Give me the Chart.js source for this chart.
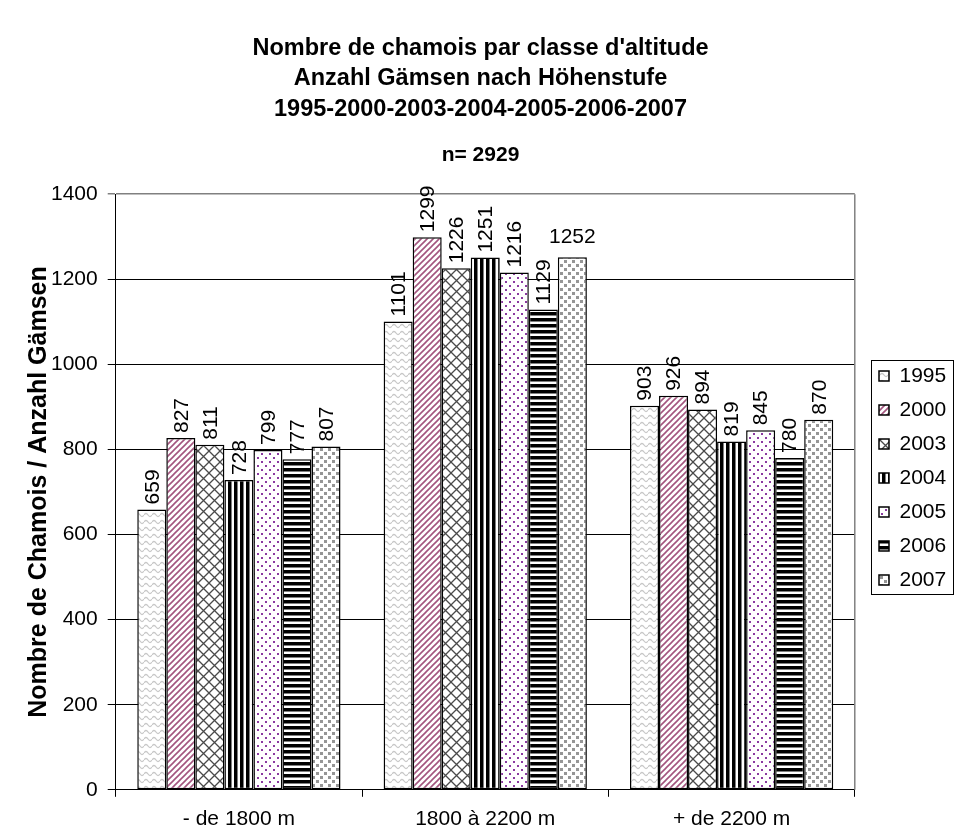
<!DOCTYPE html>
<html>
<head>
<meta charset="utf-8">
<script src="https://cdn.jsdelivr.net/npm/chart.js@4.4.1/dist/chart.umd.min.js"></script>
<style>
  html, body { margin: 0; padding: 0; background: #fff; }
  #wrap { width: 954px; height: 833px; position: relative; }
</style>
</head>
<body>
<div id="wrap"><canvas id="chamoisChart"></canvas></div>
<script>
// Daten
const categories = ['- de 1800 m', '1800 à 2200 m', '+ de 2200 m'];
const years = ['1995', '2000', '2003', '2004', '2005', '2006', '2007'];
const values1995 = [659, 1101, 903];
const values2000 = [827, 1299, 926];
const values2003 = [811, 1226, 894];
const values2004 = [728, 1251, 819];
const values2005 = [799, 1216, 845];
const values2006 = [777, 1129, 780];
const values2007 = [807, 1252, 870];
const yTicks = [0, 200, 400, 600, 800, 1000, 1200, 1400];

// Muster fuer die Balken
function makePattern(w, h, draw) {
  const c = document.createElement('canvas');
  c.width = w;
  c.height = h;
  const g = c.getContext('2d');
  g.fillStyle = '#fff';
  g.fillRect(0, 0, w, h);
  draw(g);
  return document.createElement('canvas').getContext('2d').createPattern(c, 'repeat');
}

const patterns = [
  // 1995: Wellen hellgrau
  makePattern(8, 7, g => {
    g.strokeStyle = '#c8c8c8';
    g.lineWidth = 1.3;
    g.beginPath();
    g.moveTo(0, 4);
    g.quadraticCurveTo(2, 1, 4, 4);
    g.quadraticCurveTo(6, 7, 8, 4);
    g.stroke();
  }),
  // 2000: Diagonalen violett
  makePattern(6, 6, g => {
    g.strokeStyle = '#a3557f';
    g.lineWidth = 1.6;
    g.beginPath();
    g.moveTo(-1, 7); g.lineTo(7, -1);
    g.moveTo(-4, 4); g.lineTo(4, -4);
    g.moveTo(2, 10); g.lineTo(10, 2);
    g.stroke();
  }),
  // 2003: Rautengitter
  makePattern(11, 11, g => {
    g.strokeStyle = '#4a4a4a';
    g.lineWidth = 1.3;
    g.beginPath();
    g.moveTo(0, 0); g.lineTo(11, 11);
    g.moveTo(11, 0); g.lineTo(0, 11);
    g.stroke();
  }),
  // 2004: senkrechte Streifen
  makePattern(6, 6, g => {
    g.fillStyle = '#000';
    g.fillRect(0, 0, 3.5, 6);
  }),
  // 2005: violette Punkte
  makePattern(8, 8, g => {
    g.fillStyle = '#8a3aa0';
    g.fillRect(1, 1, 2, 2);
    g.fillRect(5, 5, 2, 2);
  }),
  // 2006: waagrechte Streifen
  makePattern(6, 6, g => {
    g.fillStyle = '#000';
    g.fillRect(0, 0, 6, 3.5);
  }),
  // 2007: graue Quadrate
  makePattern(8, 8, g => {
    g.fillStyle = '#969696';
    g.fillRect(0, 0, 3, 3);
    g.fillRect(4, 4, 3, 3);
  })
];

const seriesValues = [values1995, values2000, values2003, values2004, values2005, values2006, values2007];

const datasets = years.map((year, i) => ({
  label: year,
  data: seriesValues[i],
  backgroundColor: patterns[i],
  borderColor: '#000',
  borderWidth: 1.5,
  borderSkipped: false,
  categoryPercentage: 0.825,
  barPercentage: 1.0
}));

// Werte ueber den Balken (1252 steht waagrecht)
const horizontalLabels = ['6-1'];

const valueLabels = {
  id: 'valueLabels',
  afterDatasetsDraw(chart) {
    const ctx = chart.ctx;
    ctx.save();
    ctx.fillStyle = '#000';
    ctx.font = '21px "Liberation Sans", Arial, sans-serif';
    chart.data.datasets.forEach((ds, di) => {
      const meta = chart.getDatasetMeta(di);
      meta.data.forEach((bar, idx) => {
        const text = String(ds.data[idx]);
        if (horizontalLabels.includes(di + '-' + idx)) {
          ctx.textAlign = 'center';
          ctx.textBaseline = 'bottom';
          ctx.fillText(text, bar.x, bar.y - 9);
        } else {
          ctx.save();
          ctx.translate(bar.x, bar.y - 5);
          ctx.rotate(-Math.PI / 2);
          ctx.textAlign = 'left';
          ctx.textBaseline = 'middle';
          ctx.fillText(text, 0, 1);
          ctx.restore();
        }
      });
    });
    ctx.restore();
  }
};

// Legende: Position wie im Original, mit Rahmen
const legendBox = { left: 871, top: 360, width: 82, height: 234 };

const frames = {
  id: 'frames',
  beforeDraw(chart) {
    const lg = chart.legend;
    lg.left = legendBox.left - 5;
    lg.right = legendBox.left + legendBox.width;
    lg.top = legendBox.top - 7.5;
    lg.bottom = legendBox.top + legendBox.height + 60;
  },
  afterDraw(chart) {
    const ctx = chart.ctx;
    const a = chart.chartArea;
    ctx.save();
    ctx.strokeStyle = '#808080';
    ctx.lineWidth = 1.5;
    ctx.beginPath();
    ctx.moveTo(a.right, a.top);
    ctx.lineTo(a.right, a.bottom);
    ctx.stroke();
    ctx.strokeStyle = '#000';
    ctx.lineWidth = 1;
    ctx.strokeRect(legendBox.left + 0.5, legendBox.top + 0.5, legendBox.width, legendBox.height);
    ctx.restore();
  }
};

Chart.defaults.font.family = '"Liberation Sans", Arial, sans-serif';
Chart.defaults.color = '#000';

const ctx = document.getElementById('chamoisChart').getContext('2d');
new Chart(ctx, {
  type: 'bar',
  data: { labels: categories, datasets: datasets },
  options: {
    responsive: true,
    maintainAspectRatio: false,
    animation: false,
    layout: { padding: { left: 16, right: 9, bottom: -9 } },
    plugins: {
      title: {
        display: true,
        text: ['Nombre de chamois par classe d\'altitude', 'Anzahl Gämsen nach Höhenstufe', '1995-2000-2003-2004-2005-2006-2007'],
        font: { size: 23.5, weight: 'bold', lineHeight: 1.277 },
        padding: { top: 34, bottom: 0 }
      },
      subtitle: {
        display: true,
        text: 'n= 2929',
        font: { size: 21, weight: 'bold' },
        padding: { top: 19, bottom: 26 }
      },
      legend: {
        position: 'right',
        align: 'start',
        labels: {
          boxWidth: 10,
          boxHeight: 10,
          padding: 13,
          font: { size: 21 },
          color: '#000'
        }
      },
      tooltip: { enabled: false }
    },
    scales: {
      x: {
        grid: { drawOnChartArea: false, drawTicks: true, tickLength: 7, color: '#000', offset: true },
        border: { color: '#000', width: 1 },
        ticks: { font: { size: 21 }, color: '#000', padding: 10 }
      },
      y: {
        min: 0,
        max: 1400,
        afterBuildTicks: axis => { axis.ticks = yTicks.map(v => ({ value: v })); },
        grid: {
          color: c => c.tick && c.tick.value === 1400 ? '#808080' : '#000',
          lineWidth: c => c.tick && c.tick.value === 1400 ? 1.5 : 1,
          tickLength: 8
        },
        border: { color: '#000', width: 1 },
        ticks: { font: { size: 21 }, color: '#000', padding: 10, callback: v => String(v) },
        title: {
          display: true,
          text: 'Nombre de Chamois / Anzahl Gämsen',
          font: { size: 25, weight: 'bold', lineHeight: 1.0 },
          padding: { top: 11, bottom: -11 }
        }
      }
    }
  },
  plugins: [valueLabels, frames]
});
</script>
</body>
</html>
